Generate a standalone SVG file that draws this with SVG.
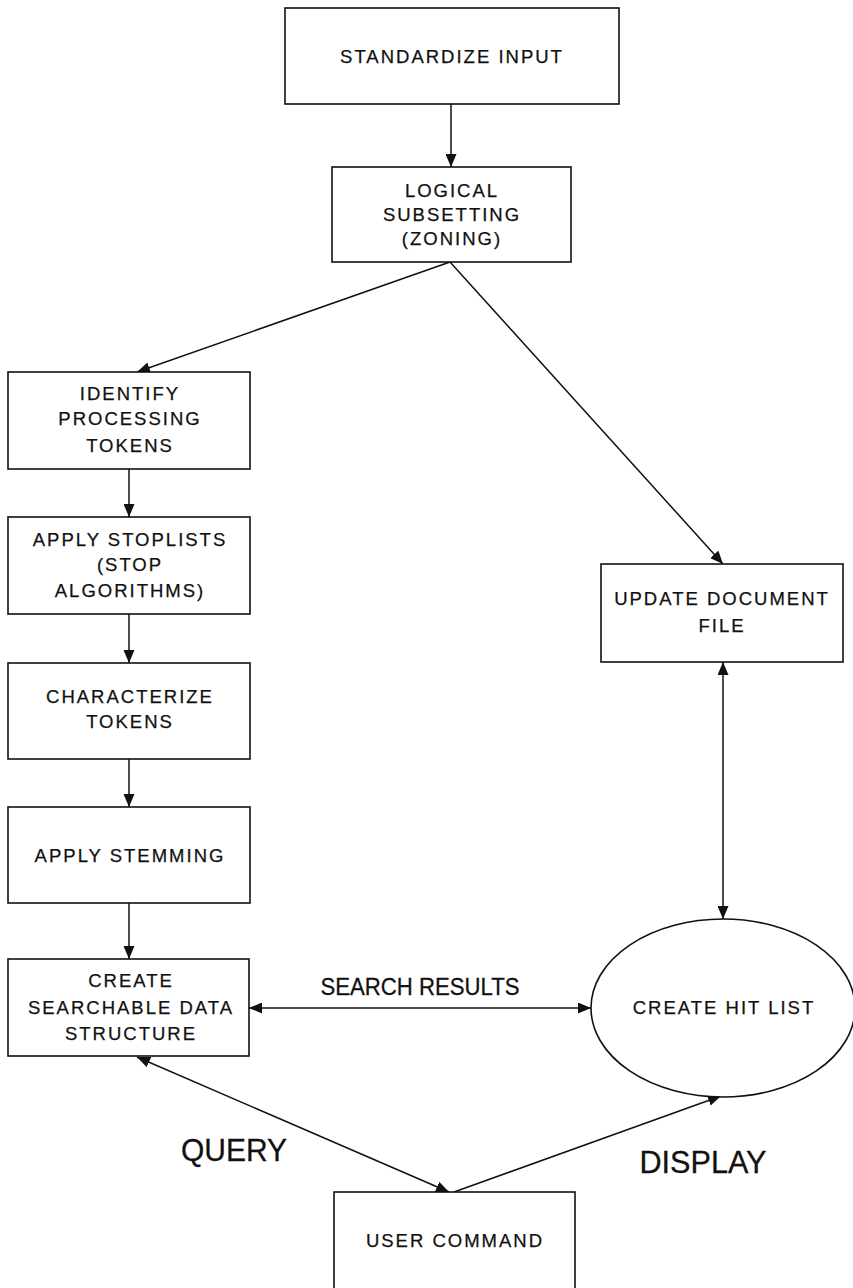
<svg xmlns="http://www.w3.org/2000/svg" width="853" height="1288" viewBox="0 0 853 1288">
  <style>
    .box { fill: #ffffff; stroke: #111111; stroke-width: 1.6; }
    .lbl { font-family: "Liberation Sans", Arial, Helvetica, sans-serif; font-size: 18.5px; letter-spacing: 2px; fill: #111111; stroke: #111111; stroke-width: 0.25; text-anchor: middle; }
    .big { font-family: "Liberation Sans", Arial, Helvetica, sans-serif; fill: #111111; stroke: #111111; stroke-width: 0.3; text-anchor: middle; }
    .edge { fill: none; stroke: #111111; stroke-width: 1.5; }
  </style>
  <defs>
    <marker id="arrow-end" viewBox="0 0 13 11" refX="13" refY="5.5" markerWidth="13" markerHeight="11" markerUnits="userSpaceOnUse" orient="auto">
      <path d="M0,0 L13,5.5 L0,11 Z" fill="#111111"/>
    </marker>
    <marker id="arrow-start" viewBox="0 0 13 11" refX="0" refY="5.5" markerWidth="13" markerHeight="11" markerUnits="userSpaceOnUse" orient="auto">
      <path d="M13,0 L0,5.5 L13,11 Z" fill="#111111"/>
    </marker>
  </defs>

  <rect width="853" height="1288" fill="#ffffff"/>

  <!-- connectors -->
  <g id="connectors">
    <line class="edge" x1="451" y1="104" x2="451" y2="167" marker-end="url(#arrow-end)"/>
    <line class="edge" x1="450" y1="262" x2="137" y2="372" marker-end="url(#arrow-end)"/>
    <line class="edge" x1="450" y1="262" x2="723" y2="564" marker-end="url(#arrow-end)"/>
    <line class="edge" x1="129" y1="469" x2="129" y2="517" marker-end="url(#arrow-end)"/>
    <line class="edge" x1="129" y1="614" x2="129" y2="663" marker-end="url(#arrow-end)"/>
    <line class="edge" x1="129" y1="759" x2="129" y2="807" marker-end="url(#arrow-end)"/>
    <line class="edge" x1="129" y1="903" x2="129" y2="959" marker-end="url(#arrow-end)"/>
    <line class="edge" x1="723" y1="662" x2="723" y2="919" marker-start="url(#arrow-start)" marker-end="url(#arrow-end)"/>
    <line class="edge" x1="249" y1="1008" x2="591" y2="1008" marker-start="url(#arrow-start)" marker-end="url(#arrow-end)"/>
    <line class="edge" x1="137" y1="1057" x2="449" y2="1192" marker-start="url(#arrow-start)" marker-end="url(#arrow-end)"/>
    <line class="edge" x1="454" y1="1192" x2="721" y2="1096" marker-end="url(#arrow-end)"/>
    <text class="big" x="420" y="995" font-size="23" textLength="199" lengthAdjust="spacingAndGlyphs">SEARCH RESULTS</text>
    <text class="big" x="234" y="1161" font-size="31" textLength="106" lengthAdjust="spacingAndGlyphs">QUERY</text>
    <text class="big" x="703" y="1173" font-size="31" textLength="127" lengthAdjust="spacingAndGlyphs">DISPLAY</text>
  </g>

  <!-- nodes -->
  <g id="standardize-input">
    <rect class="box" x="285" y="8" width="334" height="96"/>
    <text class="lbl" x="452" y="63">STANDARDIZE INPUT</text>
  </g>

  <g id="logical-subsetting">
    <rect class="box" x="332" y="167" width="239" height="95"/>
    <text class="lbl" x="452" y="197">LOGICAL</text>
    <text class="lbl" x="452" y="221">SUBSETTING</text>
    <text class="lbl" x="452" y="245">(ZONING)</text>
  </g>

  <g id="identify-tokens">
    <rect class="box" x="8" y="372" width="242" height="97"/>
    <text class="lbl" x="130" y="400">IDENTIFY</text>
    <text class="lbl" x="130" y="425">PROCESSING</text>
    <text class="lbl" x="130" y="452">TOKENS</text>
  </g>

  <g id="apply-stoplists">
    <rect class="box" x="8" y="517" width="242" height="97"/>
    <text class="lbl" x="130" y="546">APPLY STOPLISTS</text>
    <text class="lbl" x="130" y="571">(STOP</text>
    <text class="lbl" x="130" y="597">ALGORITHMS)</text>
  </g>

  <g id="characterize-tokens">
    <rect class="box" x="8" y="663" width="242" height="96"/>
    <text class="lbl" x="130" y="703">CHARACTERIZE</text>
    <text class="lbl" x="130" y="728">TOKENS</text>
  </g>

  <g id="apply-stemming">
    <rect class="box" x="8" y="807" width="242" height="96"/>
    <text class="lbl" x="130" y="862">APPLY STEMMING</text>
  </g>

  <g id="searchable-structure">
    <rect class="box" x="8" y="959" width="241" height="97"/>
    <text class="lbl" x="131" y="987">CREATE</text>
    <text class="lbl" x="131" y="1014">SEARCHABLE DATA</text>
    <text class="lbl" x="131" y="1040">STRUCTURE</text>
  </g>

  <g id="update-document">
    <rect class="box" x="601" y="564" width="242" height="98"/>
    <text class="lbl" x="722" y="605">UPDATE DOCUMENT</text>
    <text class="lbl" x="722" y="632">FILE</text>
  </g>

  <g id="hit-list">
    <ellipse class="box" cx="723" cy="1008" rx="132" ry="89"/>
    <text class="lbl" x="724" y="1014">CREATE HIT LIST</text>
  </g>

  <g id="user-command">
    <rect class="box" x="334" y="1192" width="241" height="110"/>
    <text class="lbl" x="455" y="1247">USER COMMAND</text>
  </g>
</svg>
